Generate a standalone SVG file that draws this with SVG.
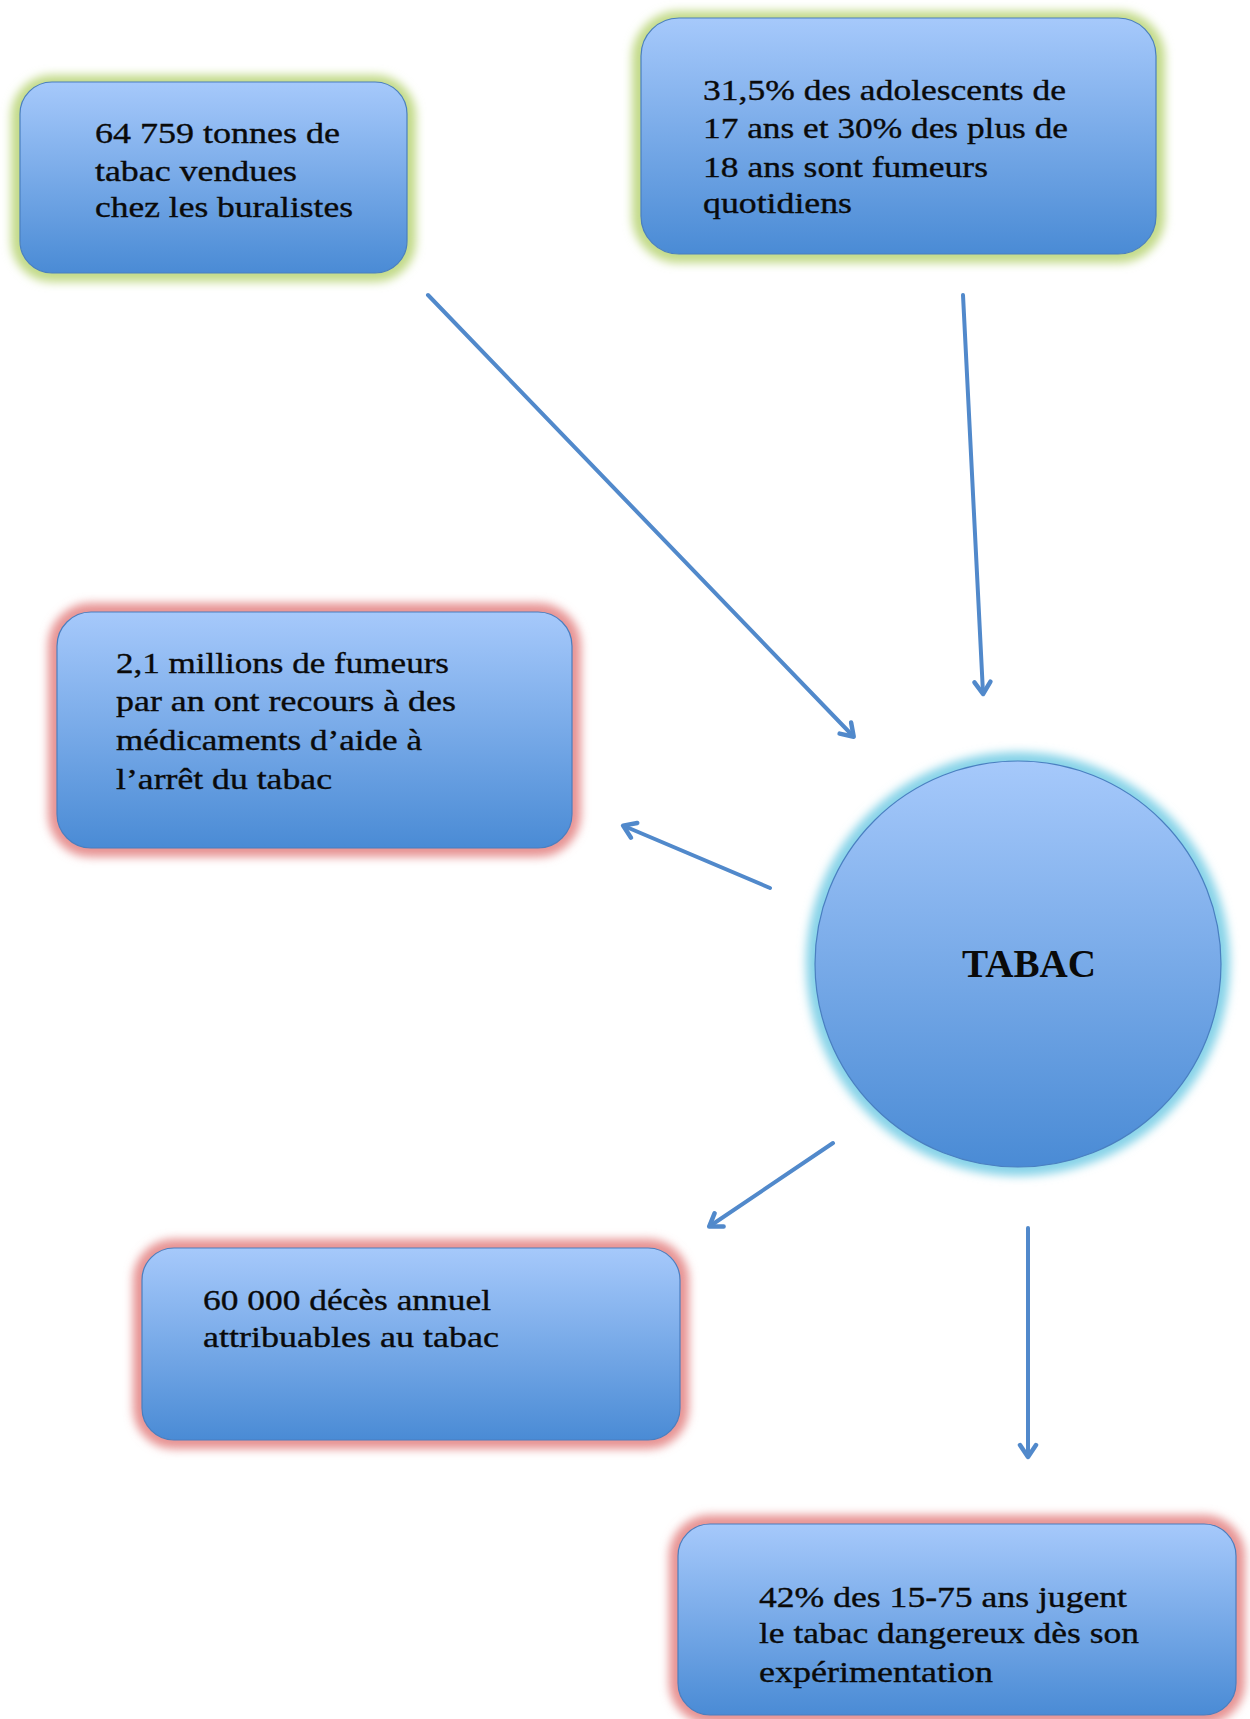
<svg xmlns="http://www.w3.org/2000/svg" width="1250" height="1719" viewBox="0 0 1250 1719">
<defs>
<linearGradient id="fill" x1="0" y1="0" x2="0" y2="1">
<stop offset="0" stop-color="#a6c9fb"/>
<stop offset="1" stop-color="#4a8bd5"/>
</linearGradient>
<filter id="blur" x="-20%" y="-20%" width="140%" height="140%">
<feGaussianBlur stdDeviation="5"/>
</filter>
<marker id="arrow" viewBox="0 0 22 22" refX="15" refY="11" markerWidth="22" markerHeight="22" markerUnits="userSpaceOnUse" orient="auto">
<path d="M4,3 L16,11 L4,19" fill="none" stroke="#5189cb" stroke-width="4.5" stroke-linecap="round" stroke-linejoin="round"/>
</marker>
</defs>
<style>
.box{fill:url(#fill);stroke:#4a7fc0;stroke-width:1.2}
.gg{fill:none;stroke:#c2da88;stroke-width:18;filter:url(#blur)}
.gr{fill:none;stroke:#e79393;stroke-width:18;filter:url(#blur)}
.gc{fill:none;stroke:#86d3e8;stroke-width:18;filter:url(#blur)}
.t{font-family:"Liberation Serif","DejaVu Serif",serif;font-size:30px;fill:#0a0a0a;stroke:#0a0a0a;stroke-width:0.35}
.tb{font-family:"Liberation Serif","DejaVu Serif",serif;font-size:40px;font-weight:bold;fill:#0a0a0a}
.c{fill:none;stroke:#5189cb;stroke-width:4;stroke-linecap:round;marker-end:url(#arrow)}
</style>
<rect width="1250" height="1719" fill="#ffffff"/>

<g id="connectors">
<line class="c" x1="428" y1="295" x2="853" y2="736"/>
<line class="c" x1="963" y1="295" x2="983" y2="693"/>
<line class="c" x1="770" y1="888" x2="624" y2="826"/>
<line class="c" x1="833" y1="1143" x2="710" y2="1226"/>
<line class="c" x1="1028" y1="1228" x2="1028" y2="1456"/>
</g>

<g id="node-tonnes">
<rect class="gg" x="20" y="84" width="387" height="189" rx="32"/>
<rect class="box" x="20" y="82" width="387" height="191" rx="32"/>
<text class="t" x="95" y="143" textLength="245" lengthAdjust="spacingAndGlyphs">64 759 tonnes de</text>
<text class="t" x="95" y="181" textLength="202" lengthAdjust="spacingAndGlyphs">tabac vendues</text>
<text class="t" x="95" y="217" textLength="258" lengthAdjust="spacingAndGlyphs">chez les buralistes</text>
</g>

<g id="node-adolescents">
<rect class="gg" x="641" y="20" width="515" height="234" rx="38"/>
<rect class="box" x="641" y="18" width="515" height="236" rx="38"/>
<text class="t" x="703" y="100" textLength="363" lengthAdjust="spacingAndGlyphs">31,5% des adolescents de</text>
<text class="t" x="703" y="138" textLength="365" lengthAdjust="spacingAndGlyphs">17 ans et 30% des plus de</text>
<text class="t" x="703" y="177" textLength="285" lengthAdjust="spacingAndGlyphs">18 ans sont fumeurs</text>
<text class="t" x="703" y="213" textLength="149" lengthAdjust="spacingAndGlyphs">quotidiens</text>
</g>

<g id="node-medicaments">
<rect class="gr" x="57" y="612" width="515" height="236" rx="34"/>
<rect class="box" x="57" y="612" width="515" height="236" rx="34"/>
<text class="t" x="116" y="673" textLength="333" lengthAdjust="spacingAndGlyphs">2,1 millions de fumeurs</text>
<text class="t" x="116" y="711" textLength="340" lengthAdjust="spacingAndGlyphs">par an ont recours à des</text>
<text class="t" x="116" y="750" textLength="306" lengthAdjust="spacingAndGlyphs">médicaments d’aide à</text>
<text class="t" x="116" y="789" textLength="216" lengthAdjust="spacingAndGlyphs">l’arrêt du tabac</text>
</g>

<g id="node-tabac">
<circle class="gc" cx="1018" cy="964" r="203"/>
<circle class="box" cx="1018" cy="964" r="203"/>
<text class="tb" x="962" y="977" textLength="134" lengthAdjust="spacingAndGlyphs">TABAC</text>
</g>

<g id="node-deces">
<rect class="gr" x="142" y="1248" width="538" height="192" rx="32"/>
<rect class="box" x="142" y="1248" width="538" height="192" rx="32"/>
<text class="t" x="203" y="1310" textLength="288" lengthAdjust="spacingAndGlyphs">60 000 décès annuel</text>
<text class="t" x="203" y="1347" textLength="296" lengthAdjust="spacingAndGlyphs">attribuables au tabac</text>
</g>

<g id="node-dangereux">
<rect class="gr" x="678" y="1524" width="558" height="191" rx="32"/>
<rect class="box" x="678" y="1524" width="558" height="191" rx="32"/>
<text class="t" x="759" y="1607" textLength="368" lengthAdjust="spacingAndGlyphs">42% des 15-75 ans jugent</text>
<text class="t" x="759" y="1643" textLength="380" lengthAdjust="spacingAndGlyphs">le tabac dangereux dès son</text>
<text class="t" x="759" y="1682" textLength="234" lengthAdjust="spacingAndGlyphs">expérimentation</text>
</g>
</svg>
